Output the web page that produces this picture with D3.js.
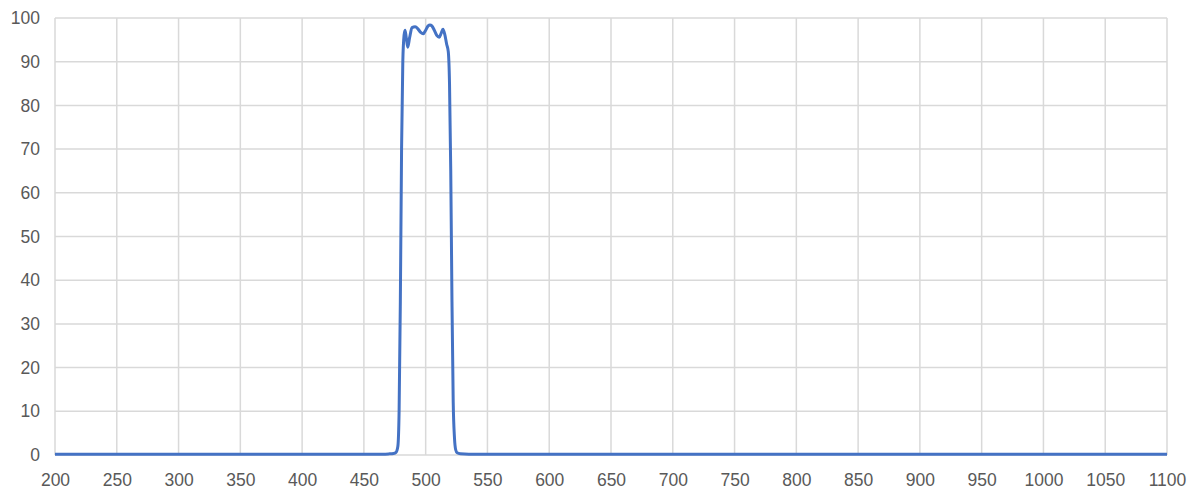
<!DOCTYPE html>
<html>
<head>
<meta charset="utf-8">
<script src="https://cdn.jsdelivr.net/npm/d3@7"></script>
<style>
  body { margin: 0; background: #fff; }
  svg { display: block; }
  .tick text { font-family: "Liberation Sans", Arial, sans-serif; font-size: 17.5px; fill: #595959; }
</style>
</head>
<body>
<div id="chart"></div>
<script>
// wavelength (nm) and transmission (%)
const wavelength = [200, 300, 400, 450, 465, 470, 474, 476, 477.5, 478.5, 479.5, 480.5, 481.5, 482.5, 483.3,
  484.3, 485.5, 487, 489, 491.5, 494, 496, 498, 500, 502, 503.5, 505, 507, 509, 511, 512.5, 514,
  515.5, 517, 518.3, 519.3, 520.3, 521.3, 522.3, 523.3, 524.3, 525.5, 528, 535, 600, 700, 800, 900, 1000, 1100]
const transmission = [0.2, 0.2, 0.2, 0.2, 0.2, 0.25, 0.35, 0.6, 2, 10, 35, 70, 90, 96, 97.2,
  95.5, 93.3, 95.5, 97.8, 98.0, 97.4, 96.7, 96.4, 97.2, 98.2, 98.4, 98.2, 97.2, 96.0, 95.6, 96.5, 97.4,
  96.2, 94, 92.3, 85, 65, 35, 12, 4, 1.2, 0.5, 0.3, 0.2, 0.2, 0.2, 0.2, 0.2, 0.2, 0.2]
const xTicks = d3.range(200, 1101, 50)
const yTicks = d3.range(0, 101, 10)

const width = 1193, height = 500
const margin = {top: 18, right: 26, bottom: 45, left: 55}

const svg = d3.select('#chart').append('svg')
  .attr('width', width)
  .attr('height', height)

const x = d3.scaleLinear().domain([200, 1100]).range([margin.left, width - margin.right])
const y = d3.scaleLinear().domain([0, 100]).range([height - margin.bottom, margin.top])

// grid
svg.append('g')
  .selectAll('line.h')
  .data(yTicks)
  .join('line')
  .attr('x1', x(200)).attr('x2', x(1100))
  .attr('y1', d => y(d)).attr('y2', d => y(d))
  .attr('stroke', '#d9d9d9').attr('stroke-width', 1.5)
svg.append('g')
  .selectAll('line.v')
  .data(xTicks)
  .join('line')
  .attr('y1', y(0)).attr('y2', y(100))
  .attr('x1', d => x(d)).attr('x2', d => x(d))
  .attr('stroke', '#d9d9d9').attr('stroke-width', 1.5)

// axes (labels only)
const xAxis = svg.append('g')
  .attr('transform', 'translate(0,' + y(0) + ')')
  .call(d3.axisBottom(x).tickValues(xTicks).tickFormat(d3.format('d')).tickSize(0).tickPadding(19))
xAxis.select('.domain').remove()

const yAxis = svg.append('g')
  .attr('transform', 'translate(' + x(200) + ',0)')
  .call(d3.axisLeft(y).tickValues(yTicks).tickFormat(d3.format('d')).tickSize(0).tickPadding(15))
yAxis.select('.domain').remove()

const data = wavelength.map((w, i) => ({w: w, t: transmission[i]}))

svg.append('path')
  .datum(data)
  .attr('fill', 'none')
  .attr('stroke', '#4472c4')
  .attr('stroke-width', 3)
  .attr('stroke-linejoin', 'round')
  .attr('d', d3.line()
    .x(d => x(d.w))
    .y(d => y(d.t))
    .curve(d3.curveMonotoneX))
</script>
</body>
</html>
